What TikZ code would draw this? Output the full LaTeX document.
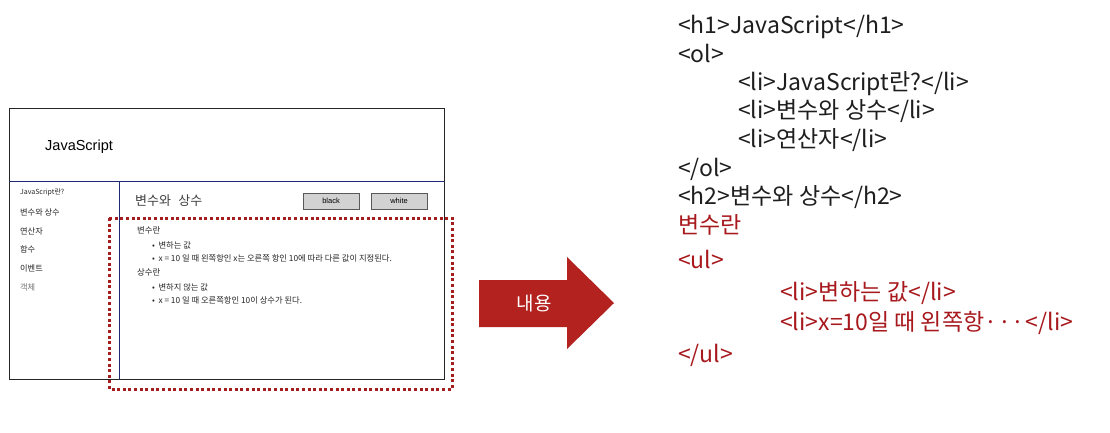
\documentclass[tikz,border=0pt]{standalone}
\usepackage{fontspec}
\setmainfont{Noto Sans CJK KR}
\newfontfamily\arialfont{Liberation Sans}
\definecolor{navyline}{HTML}{1F2A78}
\definecolor{frameRed}{HTML}{A51E1E}
\definecolor{arrowRed}{HTML}{B3221E}
\definecolor{codeRed}{HTML}{A8191E}
\definecolor{codeInk}{HTML}{1E1E1E}
\definecolor{btnFill}{HTML}{D2D2D2}
\newcommand{\fsz}[1]{\fontsize{#1}{#1}\selectfont}
\newcommand{\middots}{·\kern0.8pt·\kern0.8pt·\kern1pt}
\begin{document}
\begin{tikzpicture}[x=1pt,y=-1pt,
  txt/.style={inner sep=0pt, anchor=west},
  side/.style={txt, font=\fsz{8.2}, text=black!85},
  body/.style={txt, font=\fsz{8.3}, text=black!85},
  btn/.style={draw=black!65, fill=btnFill, line width=0.8pt, minimum width=56pt, minimum height=16pt, inner sep=0pt, font=\arialfont\fsz{7.5}},
  code/.style={inner sep=0pt, anchor=base west, font=\fsz{23}, text=codeInk},
  codered/.style={code, text=codeRed},
  divider/.style={navyline, line width=1pt},
  dotframe/.style={frameRed, line width=3pt, dash pattern=on 3pt off 2.6pt}]
\useasboundingbox[fill=white] (0,0) rectangle (1110,432);

% ---- page mock-up ----
\node[draw=black!85, line width=0.8pt, minimum width=435pt, minimum height=271pt, inner sep=0pt, anchor=north west] (page) at (9,108) {};
\coordinate (hdrL) at (9,181);
\coordinate (hdrR) at (444,181);
\coordinate (sideT) at (119,181);
\coordinate (sideB) at (119,379);
\draw[divider] (hdrL) -- (hdrR);
\draw[divider] (sideT) -- (sideB);

\node[inner sep=0pt, anchor=mid west, font=\arialfont\fsz{14.5}] (title) at (45,148) {JavaScript};

% side menu
\node[side, font=\fsz{7}] (m1) at (20,192) {JavaScript란?};
\node[side] (m2) at (20,212) {변수와 상수};
\node[side] (m3) at (20,231) {연산자};
\node[side] (m4) at (20,249) {함수};
\node[side] (m5) at (20,268) {이벤트};
\node[side, text=black!55] (m6) at (20,287) {객체};

% content
\node[txt, font=\fsz{13}, text=black!75] (h2) at (135,201) {변수와\,\, 상수};
\node[btn] (bBlack) at (331,201) {black};
\node[btn] (bWhite) at (399,201) {white};

\node[body, font=\fsz{8.4}] (c1) at (137,230) {변수란};
\node[body] (c2) at (152,245) {•\hspace{3.5pt}변하는 값};
\node[body] (c3) at (152,258) {•\hspace{3.5pt}x = 10 일 때 왼쪽항인 x는 오른쪽 항인 10에 따라 다른 값이 지정된다.};
\node[body, font=\fsz{8.4}] (c4) at (137,272) {상수란};
\node[body] (c5) at (152,287) {•\hspace{3.5pt}변하지 않는 값};
\node[body] (c6) at (152,300) {•\hspace{3.5pt}x = 10 일 때 오른쪽항인 10이 상수가 된다.};

% highlighted content region
\coordinate (selNW) at (109,218);
\coordinate (selSE) at (452,389);
\draw[dotframe] (selNW) rectangle (selSE);

% ---- arrow ----
\fill[arrowRed] (479,280) -- (567,280) -- (567,257) -- (614,303) -- (567,349) -- (567,327) -- (479,327) -- cycle;
\node[inner sep=0pt, font=\fsz{19}, text=white] (lbl) at (534,303) {내용};

% ---- markup ----
\node[code] (l1) at (678,33) {<h1>JavaScript</h1>};
\node[code] (l2) at (678,62) {<ol>};
\node[code] (l3) at (738,90) {<li>JavaScript란?</li>};
\node[code] (l4) at (738,118) {<li>변수와 상수</li>};
\node[code] (l5) at (738,147) {<li>연산자</li>};
\node[code] (l6) at (678,176) {</ol>};
\node[code] (l7) at (678,204) {<h2>변수와 상수</h2>};
\node[codered] (l8) at (678,233) {변수란};
\node[codered] (l9) at (678,268) {<ul>};
\node[codered] (l10) at (780,300) {<li>변하는 값</li>};
\node[codered] (l11) at (780,330) {<li>x=10일 때 왼쪽항\middots</li>};
\node[codered] (l12) at (678,362) {</ul>};
\end{tikzpicture}
\end{document}
